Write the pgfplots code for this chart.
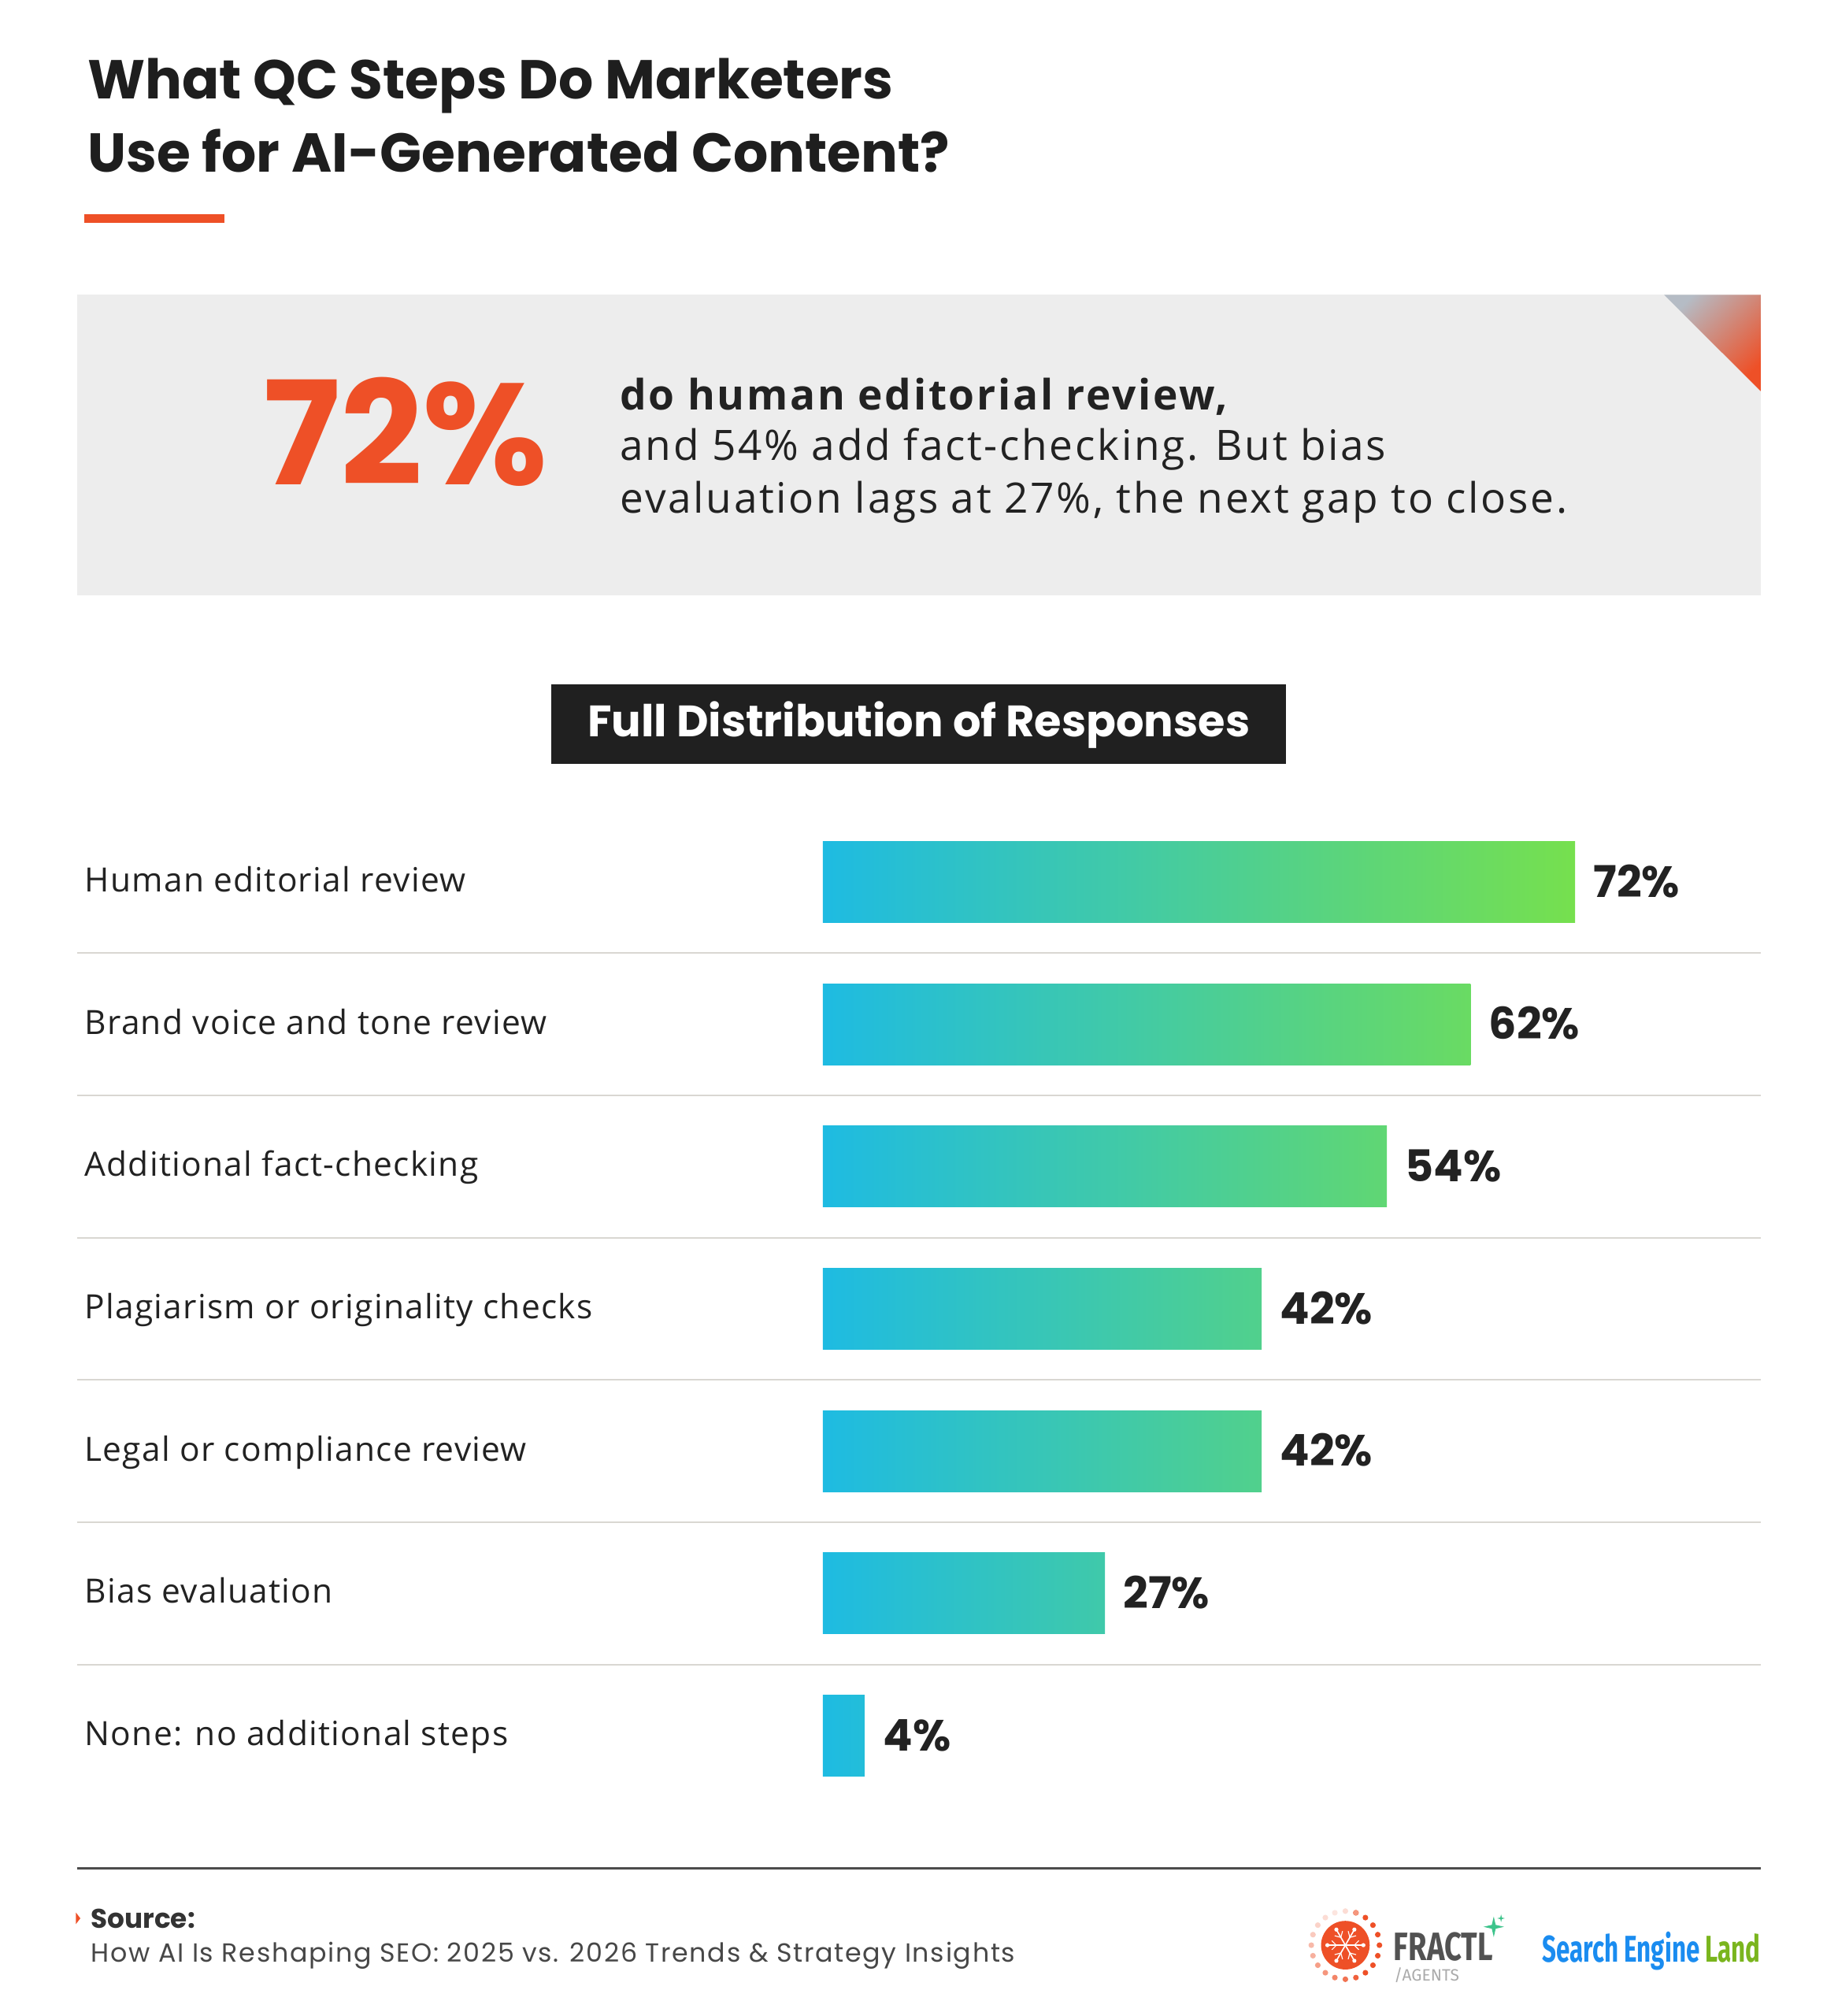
\documentclass[border=0pt]{standalone}
\usepackage{pgfplots}
\pgfplotsset{compat=1.18}
\usepackage{graphicx}
\usepackage{fontspec}
\setmainfont{Open Sans}
\newfontfamily\poppins{Poppins}
\newfontfamily\poppinsW[LetterSpace=5]{Poppins}
\newfontfamily\lbl[LetterSpace=3]{Open Sans}
\newfontfamily\stat[LetterSpace=5]{Open Sans}
\newfontfamily\fira{Fira Sans}
\definecolor{orangeR}{HTML}{EE5027}
\definecolor{titlec}{HTML}{1E1E1E}
\definecolor{boxgray}{HTML}{EDEDED}
\definecolor{boxblack}{HTML}{202020}
\definecolor{sepc}{HTML}{D9D7D2}
\definecolor{dark}{HTML}{222222}
\definecolor{c0}{HTML}{1EBBE2}
\definecolor{c1}{HTML}{76E04E}
\definecolor{selblue}{HTML}{1A8CF0}
\definecolor{selgreen}{HTML}{7AB51D}
\definecolor{sparkc}{HTML}{3EC48C}
\definecolor{trigray}{HTML}{B5BCC5}
\begin{document}
\begin{tikzpicture}
\begin{scope}[x=0.5pt,y=-0.5pt]
  % canvas
  \fill[white] (0,0) rectangle (1429,1568);
  % title
  \node[anchor=base west, inner sep=0, text=titlec, font=\poppins\bfseries\fontsize{21.3}{28}\selectfont] at (67.7,76.9) {What QC Steps Do Marketers};
  \node[anchor=base west, inner sep=0, text=titlec, font=\poppins\bfseries\fontsize{21.3}{28}\selectfont] at (67.7,133.8) {Use for AI-Generated Content?};
  \fill[orangeR] (65.5,166.6) rectangle (174.6,173.4);
  % stat box
  \fill[boxgray] (60,229.3) rectangle (1369.4,463);
  \shade[top color=trigray, bottom color=orangeR, shading angle=45] (1294.3,229.3) -- (1369.4,229.3) -- (1369.4,304.2) -- cycle;
  \node[anchor=base west, inner sep=0, text=orangeR, font=\poppins\bfseries\fontsize{56}{56}\selectfont] at (204.6,377) {72\%};
  \node[anchor=base west, inner sep=0, text=dark, font=\stat\bfseries\fontsize{16.3}{16.3}\selectfont] at (482,318.5) {do human editorial review,};
  \node[anchor=base west, inner sep=0, text=dark, font=\stat\fontsize{16.3}{16.3}\selectfont] at (482,358.3) {and 54\% add fact-checking. But bias};
  \node[anchor=base west, inner sep=0, text=dark, font=\stat\fontsize{16.3}{16.3}\selectfont] at (482,399.2) {evaluation lags at 27\%, the next gap to close.};
  % section header
  \fill[boxblack] (428.8,532.5) rectangle (1000.3,594.2);
  \node[anchor=base, inner sep=0, text=white, font=\poppins\bfseries\fontsize{17.1}{17.1}\selectfont] at (714.6,572.7) {Full Distribution of Responses};
  % separators
  \foreach \yy in {741.3,852,962.7,1073.3,1184,1294.7}
    \draw[sepc, line width=0.7pt] (60,\yy) -- (1369.4,\yy);
  % bottom rule
  \draw[black!70, line width=1pt] (60,1453) -- (1369.4,1453);
  % footer
  \fill[orangeR] (59,1487.5) -- (62.5,1492) -- (59,1496.5) -- cycle;
  \node[anchor=base west, inner sep=0, text=black!80, font=\poppins\bfseries\fontsize{10.5}{10.5}\selectfont] at (70.3,1499.4) {Source:};
  \node[anchor=base west, inner sep=0, text=black!72, font=\poppinsW\fontsize{10.2}{10.2}\selectfont] at (70.4,1526.2) {How AI Is Reshaping SEO: 2025 vs. 2026 Trends \& Strategy Insights};
  % Fractl logo
  \fill[orangeR] (1046.4,1512.9) circle (18.9);
  \foreach \a in {0,60,...,300} {
    \draw[white, line width=0.5pt] (1046.4,1512.9) -- ++(\a:14);
    \fill[white] (1046.4,1512.9) ++(\a:14) circle (1.6);
    \draw[white, line width=0.35pt] (1046.4,1512.9) ++(\a:7) -- ++(\a+45:5);
    \draw[white, line width=0.35pt] (1046.4,1512.9) ++(\a:7) -- ++(\a-45:5);
  }
  \foreach \a/\p in {-72/100,-54/100,-36/100,-18/100,0/100,18/100,36/100,54/100,72/90,90/80,108/70,126/60,144/55,162/45,180/40,198/30,216/25,234/20,252/15,270/20,288/60}
    \fill[orangeR!\p!white] (1046.4,1512.9) ++(\a:26.5) circle (2.2);
  \node[anchor=base west, inner sep=0, text=black!68] at (1083.7,1524.8) {\resizebox{38.5pt}{\height}{\fira\bfseries\fontsize{15.4}{15.4}\selectfont FRACTL}};
  \node[anchor=base west, inner sep=0, text=black!33, font=\fira\fontsize{6.4}{6.4}\selectfont] at (1084,1541) {/AGENTS};
  \fill[sparkc] (1161.8,1490.6) -- (1163.3,1497.1) -- (1169.8,1498.6) -- (1163.3,1500.1) -- (1161.8,1506.6) -- (1160.3,1500.1) -- (1153.8,1498.6) -- (1160.3,1497.1) -- cycle;
  \fill[sparkc] (1167.5,1489) -- (1168.1,1491.4) -- (1170.5,1492) -- (1168.1,1492.6) -- (1167.5,1495) -- (1166.9,1492.6) -- (1164.5,1492) -- (1166.9,1491.4) -- cycle;
  % Search Engine Land
  \node[anchor=base west, inner sep=0] at (1199,1526) {\resizebox{85pt}{\height}{\fira\bfseries\fontsize{14.5}{14.5}\selectfont\textcolor{selblue}{Search Engine} \textcolor{selgreen}{Land}}};
\end{scope}
\begin{axis}[
  at={(320pt,-315.33pt)}, anchor=north west,
  scale only axis, width=292.5pt, height=387.33pt,
  xmin=0, xmax=72, ymin=-0.5, ymax=6.5, y dir=reverse,
  clip=false,
  axis line style={draw=none}, tick style={draw=none},
  xtick=\empty,
  ytick={0,1,2,3,4,5,6},
  yticklabels={Human editorial review, Brand voice and tone review, Additional fact-checking, Plagiarism or originality checks, Legal or compliance review, Bias evaluation, None: no additional steps},
  yticklabel style={anchor=base west, inner sep=0pt, xshift=-283pt, yshift=-3.8pt, text=dark, font=\lbl\fontsize{13}{13}\selectfont},
  xbar, bar width=31.5pt, bar shift=0pt,
  point meta=x,
  nodes near coords={\pgfmathprintnumber[assume math mode=true]{\pgfplotspointmeta}\%},
  nodes near coords style={anchor=base west, inner sep=0pt, xshift=7pt, yshift=-5.9pt, text=dark, font=\poppins\bfseries\fontsize{17}{17}\selectfont},
]
\addplot[draw=none, left color=c0, right color=c1] coordinates {(72,0)};
\addplot[draw=none, left color=c0, right color=c1!86!c0] coordinates {(62,1)};
\addplot[draw=none, left color=c0, right color=c1!75!c0] coordinates {(54,2)};
\addplot[draw=none, left color=c0, right color=c1!58!c0] coordinates {(42,3)};
\addplot[draw=none, left color=c0, right color=c1!58!c0] coordinates {(42,4)};
\addplot[draw=none, left color=c0, right color=c1!38!c0] coordinates {(27,5)};
\addplot[draw=none, left color=c0, right color=c1!6!c0] coordinates {(4,6)};
\end{axis}
\end{tikzpicture}
\end{document}
